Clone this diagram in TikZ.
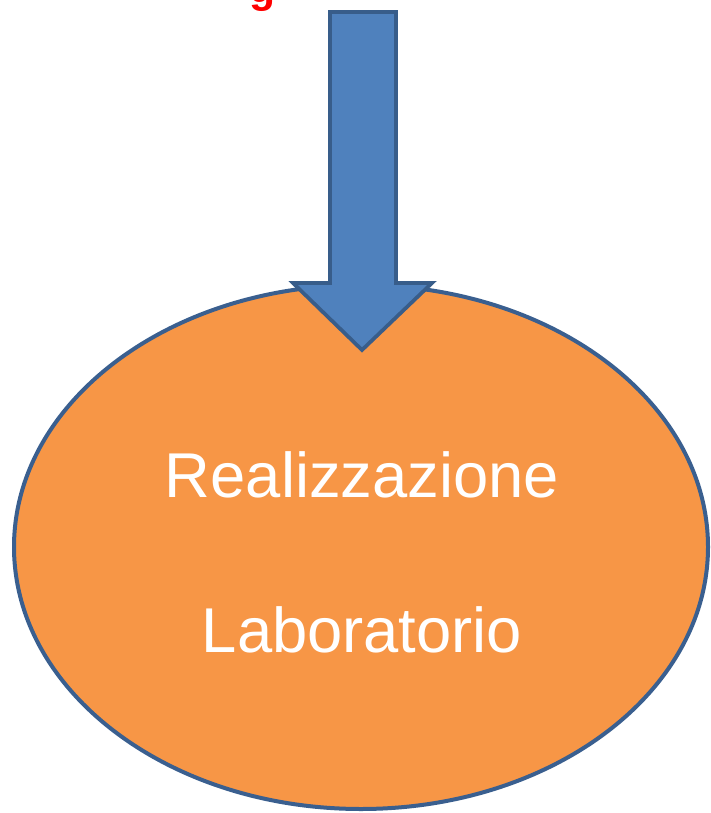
\documentclass[tikz,border=0pt]{standalone}
\usepackage{fontspec}
\setmainfont{Liberation Sans}
\usetikzlibrary{shapes.geometric}
\definecolor{labfill}{HTML}{F79646}
\definecolor{labline}{HTML}{3A5F8F}
\definecolor{arrfill}{HTML}{4F81BD}
\definecolor{arrline}{HTML}{385D8A}
\begin{document}
\begin{tikzpicture}[x=0.75pt, y=-0.75pt]
			%%%%% START %%%%%
			
			\useasboundingbox (0, 0) rectangle (710, 813);
			\clip (0, 0) rectangle (710, 813);
			
			\node[anchor=base, text=red, font=\bfseries\fontsize{32}{38}\selectfont, inner sep=0pt] (top) at (263, 3) {g};
			
			\node[ellipse, draw=labline, line width=3pt, fill=labfill, minimum width=694*0.75pt, minimum height=524*0.75pt, inner sep=0pt] (lab) at (361, 547) {};
			
			\draw[line width=2.8pt, draw=arrline, fill=arrfill, line join=miter] (330, 12) -- (396, 12) -- (396, 283) -- (432, 283) -- (362, 350) -- (293, 283) -- (330, 283) -- cycle;
			
			\node[text=white, font=\fontsize{47.5}{57}\selectfont, anchor=base, inner sep=0pt] (real) at (362, 497) {Realizzazione};
			\node[text=white, font=\fontsize{47.5}{57}\selectfont, anchor=base, inner sep=0pt] (labo) at (362, 652) {Laboratorio};
			
			%%%%% END %%%%%
\end{tikzpicture}
\end{document}
